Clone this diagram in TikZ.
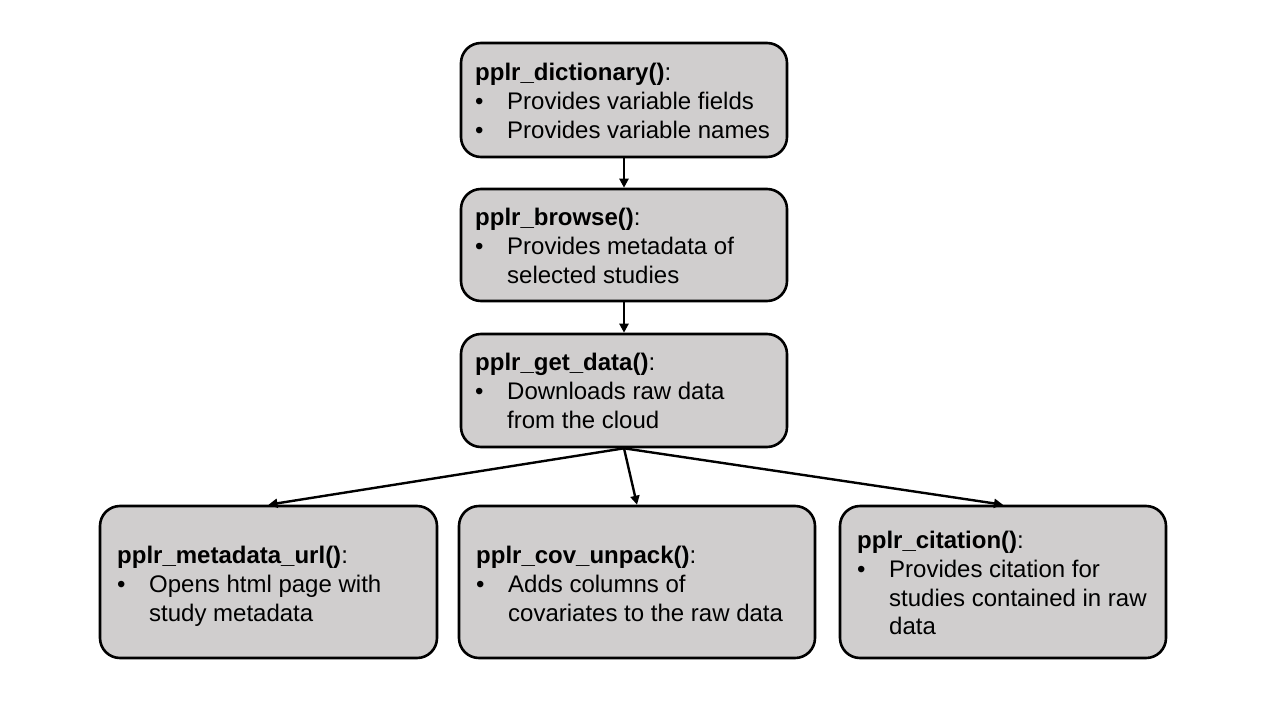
\documentclass[tikz,border=0pt]{standalone}
\usepackage{fontspec}
\setmainfont{Liberation Sans}
\usetikzlibrary{arrows.meta}
\definecolor{boxgray}{HTML}{D0CECE}
\newcommand{\bul}[1]{\makebox[32pt][l]{\textbullet}#1}
\newcommand{\cont}[1]{\hspace*{32pt}#1}
\tikzset{
  fnbox/.style={draw=black, line width=2.6pt, fill=boxgray, rounded corners=20pt, inner sep=0pt},
  fntext/.style={anchor=north west, align=left, inner sep=0pt,
    font=\fontsize{24pt}{28.8pt}\selectfont},
  link/.style={line width=2.4pt, -{Triangle[length=9pt,width=9pt]}}
}
\begin{document}
\begin{tikzpicture}[x=1pt,y=-1pt]
\useasboundingbox (0,0) rectangle (1280,720);
% boxes
\node[fnbox, minimum width=326pt, minimum height=114pt] (b1) at (624,100) {};
\node[fnbox, minimum width=326pt, minimum height=112pt] (b2) at (624,245) {};
\node[fnbox, minimum width=326pt, minimum height=113pt] (b3) at (624,390.5) {};
\node[fnbox, minimum width=337pt, minimum height=152pt] (b4) at (268.5,582) {};
\node[fnbox, minimum width=356pt, minimum height=152pt] (b5) at (637,582) {};
\node[fnbox, minimum width=326pt, minimum height=152pt] (b6) at (1003,582) {};
% texts
\node[fntext] (t1) at (475,63) {\textbf{pplr\_dictionary()}:\\ \bul{Provides variable fields}\\ \bul{Provides variable names}};
\node[fntext] (t2) at (475,208) {\textbf{pplr\_browse()}:\\ \bul{Provides metadata of}\\ \cont{selected studies}};
\node[fntext] (t3) at (475,353) {\textbf{pplr\_get\_data()}:\\ \bul{Downloads raw data}\\ \cont{from the cloud}};
\node[fntext] (t4) at (117,546) {\textbf{pplr\_metadata\_url()}:\\ \bul{Opens html page with}\\ \cont{study metadata}};
\node[fntext] (t5) at (476,546) {\textbf{pplr\_cov\_unpack()}:\\ \bul{Adds columns of}\\ \cont{covariates to the raw data}};
\node[fntext] (t6) at (857,531) {\textbf{pplr\_citation()}:\\ \bul{Provides citation for}\\ \cont{studies contained in raw}\\ \cont{data}};
% connectors
\draw[link] (b1.south) -- (b2.north);
\draw[link] (b2.south) -- (b3.north);
\draw[link] (b3.south) -- (b4.north);
\draw[link] (b3.south) -- (b5.north);
\draw[link] (b3.south) -- (b6.north);
\end{tikzpicture}
\end{document}
